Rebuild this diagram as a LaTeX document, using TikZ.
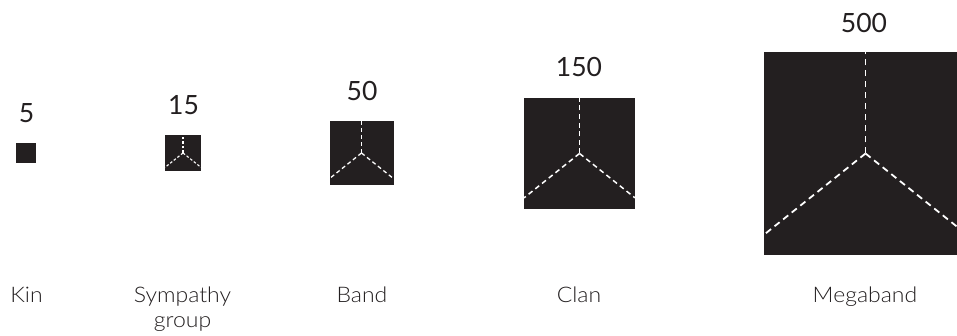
\documentclass[tikz,border=0pt]{standalone}
\usepackage{fontspec}
\setmainfont{Lato}
\newfontfamily\lightfont[FakeStretch=1.07]{Lato Light}
\usetikzlibrary{calc}
\definecolor{ink}{HTML}{231F20}
\newcommand\groupRays[5]{%
  % #1 node name, #2 half size, #3 line width, #4 dash on, #5 dash off
  \draw[ray={#3}{#4}{#5}] (#1.center) -- (#1.north);
  \draw[ray={#3}{#4}{#5}] (#1.center) -- ($(#1.west)+(0,-0.8*#2)$);
  \draw[ray={#3}{#4}{#5}] (#1.center) -- ($(#1.east)+(0,-0.8*#2)$);
}
\begin{document}
\begin{tikzpicture}[x=1pt,y=1pt,
  sq/.style={fill=ink, draw=none, inner sep=0pt, outer sep=0pt, minimum size=#1},
  num/.style={anchor=base, font=\fontsize{26.5}{30}\selectfont, text=ink, inner sep=0pt},
  lab/.style={anchor=base, font=\lightfont\fontsize{21.5}{25}\selectfont, text=ink, align=center, inner sep=0pt},
  ray/.style n args={3}{draw=white, line width=#1, dash pattern=on #2 off #3},
]
\useasboundingbox (0,0) rectangle (957,336);

% squares
\node[sq=20pt]  (kin)  at (26,183) {};
\node[sq=36pt]  (symp) at (183,183) {};
\node[sq=64pt]  (band) at (361.5,183) {};
\node[sq=111pt] (clan) at (579.5,182.5) {};
\node[sq=203pt] (mega) at (865.5,182.5) {};

% dashed partitions
\groupRays{symp}{18}{1.1}{2.6}{2.0}
\groupRays{band}{32}{1.3}{4}{3}
\groupRays{clan}{55.5}{1.5}{5}{3.6}
\groupRays{mega}{101.5}{1.8}{6.5}{4.5}

% numbers
\node[num] (n5)   at (26.5,213) {5};
\node[num] (n15)  at (183.5,221) {15};
\node[num] (n50)  at (362,235) {50};
\node[num] (n150) at (579,259) {150};
\node[num] (n500) at (864,303) {500};

% names
\node[lab] (lkin)  at (26.5,33) {Kin};
\node[lab] (lsymp) at (182.5,8) {Sympathy\\group};
\node[lab] (lband) at (362,33) {Band};
\node[lab] (lclan) at (579,33) {Clan};
\node[lab] (lmega) at (865,33) {Megaband};
\end{tikzpicture}
\end{document}
